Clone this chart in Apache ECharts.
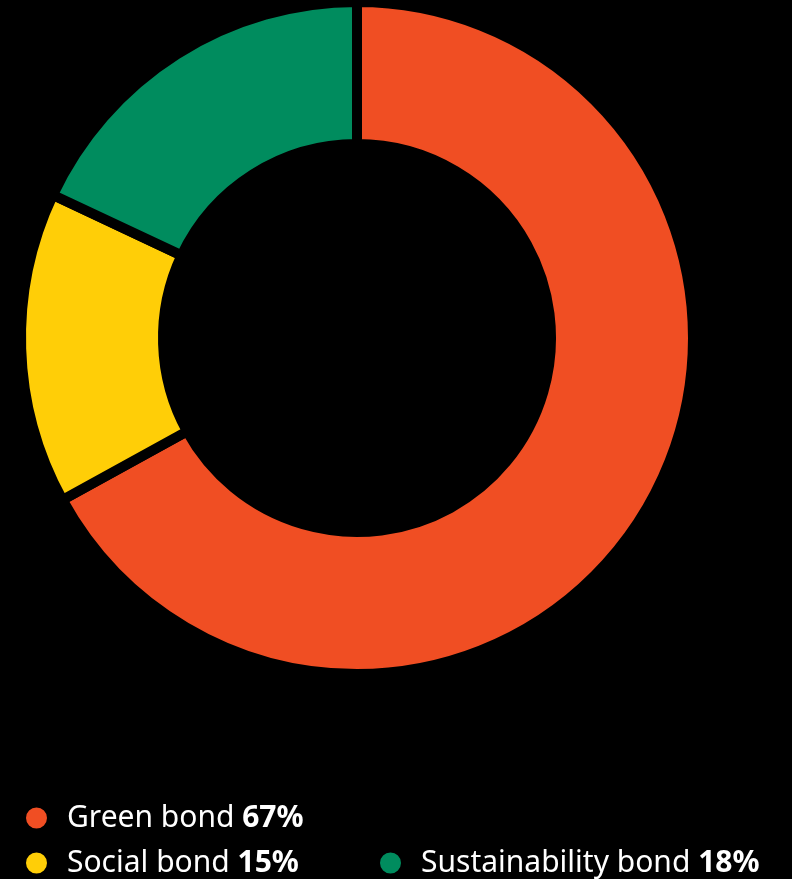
<!DOCTYPE html>
<html><head><meta charset="utf-8">
<script src="https://cdn.jsdelivr.net/npm/echarts@6/dist/echarts.min.js"></script>
<style>html,body{margin:0;padding:0;background:#000}#c{width:792px;height:879px}</style>
</head><body><div id="c"></div>
<script>
const categories = ['Green bond', 'Social bond', 'Sustainability bond'];
const values = [67, 15, 18];
const colors = ['#F04E23', '#FFCE07', '#008C5E'];

const chart = echarts.init(document.getElementById('c'));
const valueOf = {};
categories.forEach((c, i) => valueOf[c] = values[i]);
const fmt = name => name + ' {b|' + valueOf[name] + '%}';
const legendText = {
  color: '#fff', fontSize: 30, fontFamily: 'Noto Sans', padding: [0, 0, 0, 14],
  rich: { b: { color: '#fff', fontSize: 30, fontWeight: 'bold', fontFamily: 'Noto Sans' } }
};
const legendPos = [[24, 803], [24, 848], [378, 848]];
chart.setOption({
  backgroundColor: '#000',
  animation: false,
  color: colors,
  legend: categories.map((c, i) => ({
    left: legendPos[i][0], top: legendPos[i][1], padding: 0,
    itemWidth: 23, itemHeight: 23, icon: 'circle',
    data: [c], formatter: fmt, textStyle: legendText, selectedMode: false
  })),
  series: [{
    type: 'pie',
    center: [357, 338],
    radius: [194, 336],
    startAngle: 90,
    clockwise: true,
    label: { show: false },
    labelLine: { show: false },
    itemStyle: { borderColor: '#000', borderWidth: 10 },
    emphasis: { disabled: true },
    data: categories.map((c, i) => ({ name: c, value: values[i] }))
  }]
});
</script></body></html>
